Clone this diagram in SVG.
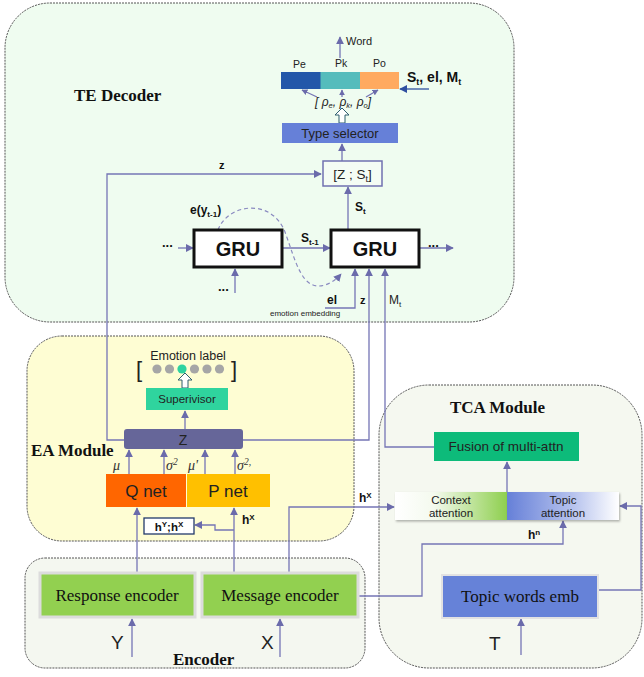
<svg xmlns="http://www.w3.org/2000/svg" width="644" height="677" viewBox="0 0 644 677">
<defs>
<marker id="a" viewBox="0 0 10 10" refX="9" refY="5" markerWidth="8" markerHeight="8" markerUnits="userSpaceOnUse" orient="auto"><path d="M0,0 L10,5 L0,10 z" fill="#6b6bab"/></marker>
<marker id="as" viewBox="0 0 10 10" refX="9" refY="5" markerWidth="6" markerHeight="6" markerUnits="userSpaceOnUse" orient="auto"><path d="M0,0 L10,5 L0,10 z" fill="#6b6bab"/></marker>
<marker id="ab" viewBox="0 0 10 10" refX="9" refY="5" markerWidth="8" markerHeight="8" markerUnits="userSpaceOnUse" orient="auto"><path d="M0,0 L10,5 L0,10 z" fill="#2f4fa0"/></marker>
<linearGradient id="gc" x1="0" y1="0" x2="1" y2="0"><stop offset="0" stop-color="#ffffff"/><stop offset="0.35" stop-color="#f4faee"/><stop offset="1" stop-color="#8ecf4e"/></linearGradient>
<linearGradient id="gt" x1="0" y1="0" x2="1" y2="0"><stop offset="0" stop-color="#6680d8"/><stop offset="0.6" stop-color="#b8c4ee"/><stop offset="1" stop-color="#ffffff"/></linearGradient>
<filter id="sh" x="-10%" y="-20%" width="130%" height="150%"><feDropShadow dx="1" dy="1.5" stdDeviation="1" flood-color="#000" flood-opacity="0.3"/></filter>
</defs>
<style>
.mod{stroke:#555;stroke-width:1;stroke-dasharray:2 1}
.c{fill:none;stroke:#7575b5;stroke-width:1.3}
.ttl{font-family:"Liberation Serif",serif;font-weight:bold;font-size:17px;fill:#111}
.s{font-family:"Liberation Sans",Arial,sans-serif;fill:#222}
.b{font-family:"Liberation Sans",Arial,sans-serif;font-weight:bold;fill:#111}
.sr{font-family:"Liberation Serif",serif;font-size:17px;fill:#111}
.gru{fill:#fff;stroke:#111;stroke-width:3}
.enc{fill:#92d050;stroke:#dcdcdc;stroke-width:3}
</style>

<!-- module backgrounds -->
<g id="te-decoder"><rect class="mod" x="5" y="3" width="509" height="319" rx="45" fill="#effcf0"/><text class="ttl" x="74" y="101">TE Decoder</text></g>
<g id="ea-module"><rect class="mod" x="27" y="336" width="327" height="205" rx="35" fill="#fefdd3"/><text class="ttl" x="31" y="456">EA Module</text></g>
<g id="tca-module"><rect class="mod" x="379" y="385" width="263" height="283" rx="50" fill="#f5f8f0"/><text class="ttl" x="450" y="413">TCA Module</text></g>
<g id="encoder"><rect class="mod" x="25" y="558" width="340" height="110" rx="20" fill="#f4f7f0"/><text class="ttl" x="173" y="665">Encoder</text></g>

<!-- connectors -->
<g id="connectors">
<line class="c" x1="340" y1="58" x2="340" y2="37" marker-end="url(#a)"/>
<line class="c" x1="317" y1="97" x2="302" y2="90" marker-end="url(#as)"/>
<line class="c" x1="342" y1="97" x2="342" y2="90" marker-end="url(#as)"/>
<line class="c" x1="366" y1="97" x2="378" y2="90" marker-end="url(#as)"/>
<line x1="429" y1="89" x2="400" y2="89" stroke="#2f4fa0" stroke-width="1.3" marker-end="url(#ab)"/>
<line class="c" x1="342" y1="161" x2="342" y2="144" marker-end="url(#a)"/>
<line class="c" x1="348" y1="229" x2="348" y2="187" marker-end="url(#a)"/>
<polyline class="c" points="124,440 107,440 107,174 321,174" marker-end="url(#a)"/>
<line class="c" x1="178" y1="248" x2="193" y2="248" marker-end="url(#a)"/>
<line class="c" x1="282" y1="248" x2="330" y2="248" marker-end="url(#a)"/>
<line class="c" x1="420" y1="248" x2="453" y2="248" marker-end="url(#a)"/>
<line class="c" x1="235" y1="293" x2="235" y2="269" marker-end="url(#a)"/>
<path d="M218,230 C228,203 272,198 285,232 C296,262 302,292 325,285 Q334,282 341,274" fill="none" stroke="#8a8ac0" stroke-width="1.2" stroke-dasharray="4 3" marker-end="url(#a)"/>
<polyline class="c" points="325,308 355,308 355,269" marker-end="url(#a)"/>
<polyline class="c" points="243,440 369,440 369,269" marker-end="url(#a)"/>
<polyline class="c" points="434,447 385,447 385,269" marker-end="url(#a)"/>
<line class="c" x1="185" y1="429" x2="185" y2="411" marker-end="url(#a)"/>
<line class="c" x1="129" y1="474" x2="129" y2="450" marker-end="url(#a)"/>
<line class="c" x1="164" y1="474" x2="164" y2="450" marker-end="url(#a)"/>
<line class="c" x1="205" y1="474" x2="205" y2="450" marker-end="url(#a)"/>
<line class="c" x1="235" y1="474" x2="235" y2="450" marker-end="url(#a)"/>
<line class="c" x1="137" y1="573" x2="137" y2="508" marker-end="url(#a)"/>
<line class="c" x1="234" y1="573" x2="234" y2="508" marker-end="url(#a)"/>
<polyline class="c" points="234,530 215,530 215,525 195,525" marker-end="url(#a)"/>
<polyline class="c" points="289,573 289,507 394,507" marker-end="url(#a)"/>
<line class="c" x1="507" y1="492" x2="507" y2="462" marker-end="url(#a)"/>
<polyline class="c" points="358,596 422,596 422,544 563,544 563,521" marker-end="url(#a)"/>
<polyline class="c" points="598,590 641,590 641,506 620,506" marker-end="url(#a)"/>
<line class="c" x1="521" y1="655" x2="521" y2="619" marker-end="url(#a)"/>
<line class="c" x1="132" y1="657" x2="132" y2="619" marker-end="url(#a)"/>
<line class="c" x1="280" y1="657" x2="280" y2="619" marker-end="url(#a)"/>
<line class="c" x1="109" y1="607" x2="137" y2="607" marker-end="url(#as)"/>
<line class="c" x1="136" y1="611" x2="108" y2="611" marker-end="url(#as)"/>
<line class="c" x1="270" y1="607" x2="299" y2="607" marker-end="url(#as)"/>
<line class="c" x1="298" y1="611" x2="268" y2="611" marker-end="url(#as)"/>
<polygon points="339,123 339,115 335,115 342,108 349,115 345,115 345,123" fill="#fff" stroke="#2f5f6f" stroke-width="1"/>
<polygon points="182,388 182,380 178,380 185,373 192,380 188,380 188,388" fill="#fff" stroke="#2f5f6f" stroke-width="1"/>
</g>

<!-- TE decoder nodes -->
<g id="word"><text class="s" x="346" y="45" font-size="11">Word</text></g>
<g id="p-bar">
<rect x="281" y="72" width="40" height="17" fill="#2357a9"/>
<rect x="320.5" y="72" width="40" height="17" fill="#55bcbc"/>
<rect x="360" y="72" width="39" height="17" fill="#ffaa60"/>
<text class="s" x="293" y="68" font-size="10.5">Pe</text>
<text class="s" x="335" y="67" font-size="10.5">Pk</text>
<text class="s" x="373" y="67" font-size="10.5">Po</text>
</g>
<g id="st-el-mt"><text class="b" x="407" y="82" font-size="14">S<tspan font-size="9" dy="3">t</tspan><tspan dy="-3">, el, M</tspan><tspan font-size="9" dy="3">t</tspan></text></g>
<g id="rho"><text class="s" x="315" y="106" font-size="12" font-style="italic" fill="#444">[ ρ<tspan font-size="7.5" dy="2">e</tspan><tspan dy="-2">, ρ</tspan><tspan font-size="7.5" dy="2">k</tspan><tspan dy="-2">, ρ</tspan><tspan font-size="7.5" dy="2">o</tspan><tspan dy="-2">]</tspan></text></g>
<g id="type-selector"><rect x="282" y="123" width="116" height="20" fill="#6680d8"/><text class="s" x="340" y="138" font-size="13" text-anchor="middle">Type selector</text></g>
<g id="z-st"><rect x="323" y="161" width="59" height="25" fill="#f4fcf4" stroke="#7070b0" stroke-width="1.5"/><text class="s" x="352.5" y="178.5" font-size="13.5" text-anchor="middle" fill="#333">[Z ; S<tspan font-size="9" dy="3">t</tspan><tspan dy="-3">]</tspan></text></g>
<g id="z-label"><text class="b" x="219" y="169" font-size="11">z</text></g>
<g id="st-label"><text class="b" x="355" y="211" font-size="12">S<tspan font-size="8" dy="3">t</tspan></text></g>
<g id="eyt-label"><text class="b" x="190" y="214" font-size="12">e(y<tspan font-size="8" dy="3">t-1</tspan><tspan dy="-3">)</tspan></text></g>
<g id="gru1"><rect class="gru" x="194" y="230" width="88" height="37"/><text class="b" x="238" y="256" font-size="20" text-anchor="middle">GRU</text></g>
<g id="gru2"><rect class="gru" x="331" y="230" width="88" height="37"/><text class="b" x="375" y="256" font-size="20" text-anchor="middle">GRU</text></g>
<g id="st1-label"><text class="b" x="301" y="242" font-size="12">S<tspan font-size="8" dy="3">t-1</tspan></text></g>
<g id="dots"><text class="b" x="162" y="247" font-size="13">...</text><text class="b" x="428" y="247" font-size="13">...</text><text class="b" x="218" y="291" font-size="13">...</text></g>
<g id="el-label"><text class="b" x="327" y="304" font-size="12">el</text><text class="s" x="270" y="316" font-size="8" fill="#444">emotion embedding</text></g>
<g id="z2-label"><text class="b" x="360" y="304" font-size="11">z</text></g>
<g id="mt-label"><text class="s" x="389" y="304" font-size="12">M<tspan font-size="8" dy="3">t</tspan></text></g>

<!-- EA nodes -->
<g id="emotion-label">
<text class="s" x="188" y="360" font-size="12.5" text-anchor="middle" fill="#333">Emotion label</text>
<text class="s" x="136" y="377" font-size="22" fill="#222">[</text>
<text class="s" x="231" y="377" font-size="22" fill="#222">]</text>
<circle cx="157" cy="369" r="4.6" fill="#a6a6a6"/>
<circle cx="169.5" cy="369" r="4.6" fill="#a6a6a6"/>
<circle cx="182" cy="369" r="4.6" fill="#2ed3a0"/>
<circle cx="194.5" cy="369" r="4.6" fill="#a6a6a6"/>
<circle cx="207" cy="369" r="4.6" fill="#a6a6a6"/>
<circle cx="219.5" cy="369" r="4.6" fill="#a6a6a6"/>
</g>
<g id="supervisor"><rect x="146" y="388" width="82" height="22" fill="#2fd49e"/><text class="s" x="187" y="403" font-size="11.5" text-anchor="middle" fill="#fff">Superivisor</text></g>
<g id="z-node"><rect x="124" y="429" width="119" height="20" rx="3" fill="#666699"/><text class="s" x="183" y="445" font-size="14" text-anchor="middle" fill="#222">Z</text></g>
<g id="mu-labels" font-family="Liberation Serif,serif" font-style="italic" font-size="14" fill="#333">
<text x="113" y="470">μ</text>
<text x="166" y="470">σ<tspan font-size="9.5" dy="-5">2</tspan></text>
<text x="188" y="470">μ'</text>
<text x="237" y="470">σ<tspan font-size="9.5" dy="-5">2</tspan><tspan font-size="9.5">,</tspan></text>
</g>
<g id="q-net"><rect x="106" y="474" width="80" height="33" fill="#ff6600"/><text class="s" x="146" y="497" font-size="17" text-anchor="middle" fill="#222">Q net</text></g>
<g id="p-net"><rect x="187" y="474" width="83" height="33" fill="#ffc000"/><text class="s" x="228" y="497" font-size="17" text-anchor="middle" fill="#222">P net</text></g>
<g id="hyhx"><rect x="144" y="518" width="50" height="16" fill="#fff" stroke="#223a6a" stroke-width="1.3"/><text class="b" x="169" y="531" font-size="11.5" text-anchor="middle">h<tspan font-size="8" dy="-4">Y</tspan><tspan dy="4">;h</tspan><tspan font-size="8" dy="-4">X</tspan></text></g>
<g id="hx-label1"><text class="b" x="242" y="524" font-size="12">h<tspan font-size="8" dy="-4">X</tspan></text></g>

<!-- TCA nodes -->
<g id="fusion"><rect x="434" y="432" width="145" height="29" fill="#0dbb7a"/><text class="s" x="506" y="451" font-size="13.5" text-anchor="middle" fill="#1a2a20">Fusion of multi-attn</text></g>
<g id="context-attention"><rect x="395" y="492" width="112" height="28" fill="url(#gc)" filter="url(#sh)"/><text class="s" x="451" y="504" font-size="11.5" text-anchor="middle" fill="#333">Context</text><text class="s" x="451" y="517" font-size="11.5" text-anchor="middle" fill="#333">attention</text></g>
<g id="topic-attention"><rect x="507" y="492" width="112" height="28" fill="url(#gt)" filter="url(#sh)"/><text class="s" x="563" y="504" font-size="11.5" text-anchor="middle" fill="#333">Topic</text><text class="s" x="563" y="517" font-size="11.5" text-anchor="middle" fill="#333">attention</text></g>
<g id="hx-label2"><text class="b" x="359" y="502" font-size="12">h<tspan font-size="8" dy="-4">X</tspan></text></g>
<g id="hn-label"><text class="b" x="528" y="539" font-size="12">h<tspan font-size="8" dy="-4">n</tspan></text></g>
<g id="topic-words"><rect x="442" y="575" width="156" height="43" fill="#6682d8" stroke="#e2e2e2" stroke-width="2"/><text class="sr" x="520" y="602" text-anchor="middle">Topic words emb</text></g>
<g id="t-label"><text class="s" x="489" y="650" font-size="19" fill="#111">T</text></g>

<!-- Encoder nodes -->
<g id="response-encoder"><rect class="enc" x="40" y="573" width="155" height="44"/><text class="sr" x="117" y="601" text-anchor="middle">Response encoder</text></g>
<g id="message-encoder"><rect class="enc" x="202" y="573" width="156" height="44"/><text class="sr" x="280" y="601" text-anchor="middle">Message encoder</text></g>
<g id="y-label"><text class="s" x="111" y="649" font-size="19" fill="#111">Y</text></g>
<g id="x-label"><text class="s" x="261" y="649" font-size="19" fill="#111">X</text></g>
</svg>
